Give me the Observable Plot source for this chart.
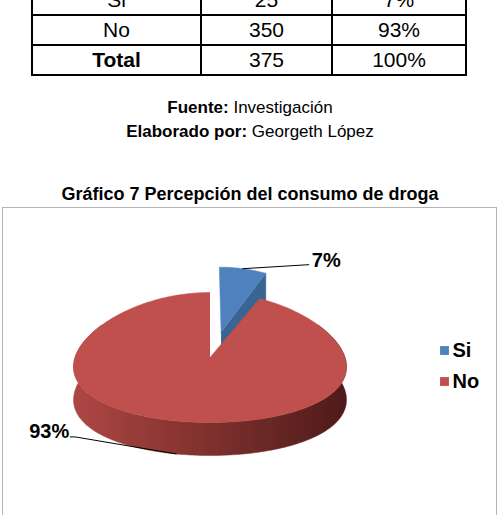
<!DOCTYPE html>
<html>
<head>
<meta charset="utf-8">
<script src="https://cdn.jsdelivr.net/npm/d3@7"></script>
<script src="https://cdn.jsdelivr.net/npm/@observablehq/plot@0.6"></script>
<style>
  html, body { margin: 0; padding: 0; background: #fff; }
  body { position: relative; width: 500px; height: 515px; overflow: hidden;
         font-family: "Liberation Sans", Arial, sans-serif; color: #000; }
  #tabla { position: absolute; left: 31px; top: -16px; border-collapse: collapse;
           table-layout: fixed; }
  #tabla td { border: 2px solid #000; height: 28px; padding: 0; text-align: center;
              font-size: 21px; line-height: 26px; }
  #tabla td.b { font-weight: bold; }
  .nota { position: absolute; left: 0; width: 500px; text-align: center;
          font-size: 17px; line-height: 24px; }
  .nota b { font-weight: bold; }
  #titulo { position: absolute; left: 0; width: 500px; top: 183px; text-align: center;
            font-size: 18px; line-height: 22px; font-weight: bold; }
  #marco { position: absolute; left: 2px; top: 207px; width: 493px; height: 400px;
           border: 1px solid #b4b4b4; }
  #grafico { position: absolute; left: 0; top: 207px; }
</style>
</head>
<body>
<table id="tabla">
  <colgroup><col style="width:169px"><col style="width:131px"><col style="width:134px"></colgroup>
  <tbody></tbody>
</table>
<div class="nota" style="top:96px"><b>Fuente:</b> Investigación</div>
<div class="nota" style="top:120px"><b>Elaborado por:</b> Georgeth López</div>
<div id="titulo">Gráfico 7 Percepción del consumo de droga</div>
<div id="marco"></div>
<div id="grafico"></div>
<script>
// Respuestas a la pregunta sobre el consumo de droga
const categories = ["Si", "No"];
const counts = [25, 350];
const percents = [7, 93];
const sliceColors = ["#4F81BD", "#C0504D"];
const explodeBy = [0.4, 0];   // separación radial de cada porción
const totalLabel = "Total";

// ---- tabla de frecuencias ----
const tbody = d3.select("#tabla tbody");
categories.forEach((c, i) => {
  const tr = tbody.append("tr");
  tr.append("td").text(c);
  tr.append("td").text(counts[i]);
  tr.append("td").text(percents[i] + "%");
});
const trTotal = tbody.append("tr");
trTotal.append("td").attr("class", "b").text(totalLabel);
trTotal.append("td").text(d3.sum(counts));
trTotal.append("td").text(d3.sum(percents) + "%");

// ---- pastel 3D ----
const W = 500, H = 308;
const cx = 209.5, cy = 150, rx = 135, ry = 65, depth = 33, persp = 0.15;
const TAU = 2 * Math.PI;

const total = d3.sum(percents);
let acc = 0;
const slices = categories.map((label, i) => {
  const a0 = acc / total * TAU;
  acc += percents[i];
  const a1 = acc / total * TAU;
  return {label, pct: percents[i], a0, a1, mid: (a0 + a1) / 2, explode: explodeBy[i]};
});

// ángulo medido en sentido horario desde las 12; z = 0 cara superior, 1 base
function project(theta, r, z, s) {
  const X = r * Math.sin(theta) + s.explode * Math.sin(s.mid);
  const Y = r * Math.cos(theta) + s.explode * Math.cos(s.mid);
  const k = 1 - persp * Y;
  return {x: cx + rx * X * k, y: cy - ry * Y + depth * z};
}
function arc(s, t0, t1, z) {
  const n = Math.max(2, Math.ceil(Math.abs(t1 - t0) / (Math.PI / 180)));
  return d3.range(n + 1).map(i => project(t0 + (t1 - t0) * i / n, 1, z, s));
}
const topOf = s => [project(s.a0, 0, 0, s), ...arc(s, s.a0, s.a1, 0)].map(p => ({...p, label: s.label}));

const [si, no] = slices;
const siTop = topOf(si);
const siSide = [project(si.a1, 0, 0, si), project(si.a1, 1, 0, si), project(si.a1, 1, 1, si), project(si.a1, 0, 1, si)];
const noTop = topOf(no);
const front0 = Math.PI / 3, front1 = 5 * Math.PI / 3;
const noWall = [...arc(no, front0, front1, 0), ...arc(no, front1, front0, 1)];

// líneas guía de las etiquetas
const siAnchor = project(si.mid, 1, 0, si);
const siLeader = [siAnchor, {x: siAnchor.x + 66, y: siAnchor.y - 4}];
const noAnchor = project(no.mid, 1, 1, no);
const noLeader = [noAnchor, {x: noAnchor.x - 101, y: noAnchor.y - 17}, {x: noAnchor.x - 106, y: noAnchor.y - 17}];
const siLabel = [{x: siLeader[1].x + 3, y: siLeader[1].y + 2, text: si.pct + "%"}];
const noLabel = [{x: noLeader[2].x - 1, y: noLeader[2].y + 1, text: no.pct + "%"}];

const legendX = 444, legendY = 143, legendGap = 31;

// degradado de la pared lateral
const wallShade = () => {
  const defs = d3.create("svg:defs");
  const g = defs.append("linearGradient").attr("id", "wallShade")
    .attr("x1", 0).attr("x2", 1).attr("y1", 0).attr("y2", 0);
  [[0, "#AD4744"], [0.45, "#83322F"], [1, "#4E1B1A"]].forEach(([o, c]) =>
    g.append("stop").attr("offset", o).attr("stop-color", c));
  return defs.node();
};

const labelStyle = {x: "x", y: "y", text: "text", lineAnchor: "bottom", fontSize: 20, fontWeight: "bold", fill: "#000"};

const chart = Plot.plot({
  width: W, height: H, margin: 0,
  x: {domain: [0, W], range: [0, W], axis: null},
  y: {domain: [0, H], range: [0, H], axis: null},
  color: {domain: categories, range: sliceColors},
  style: {fontFamily: "'Liberation Sans', Arial, sans-serif", background: "transparent", overflow: "visible"},
  marks: [
    wallShade,
    Plot.line(siSide, {x: "x", y: "y", fill: "#3A6493", stroke: "#3A6493", strokeWidth: 0.5}),
    Plot.line(siTop, {x: "x", y: "y", fill: "label", stroke: "label", strokeWidth: 0.5}),
    Plot.line(noWall, {x: "x", y: "y", fill: "url(#wallShade)", stroke: "url(#wallShade)", strokeWidth: 0.5}),
    Plot.line(noTop, {x: "x", y: "y", fill: "label", stroke: "label", strokeWidth: 0.5}),
    Plot.line(siLeader, {x: "x", y: "y", stroke: "#000", strokeWidth: 1}),
    Plot.line(noLeader, {x: "x", y: "y", stroke: "#000", strokeWidth: 1}),
    Plot.text(siLabel, {...labelStyle, textAnchor: "start"}),
    Plot.text(noLabel, {...labelStyle, textAnchor: "end"}),
    Plot.dot(categories, {x: () => legendX, y: (d, i) => legendY + i * legendGap, fill: d => d,
      symbol: "square", r: 5}),
    Plot.text(categories, {x: () => legendX + 8, y: (d, i) => legendY + i * legendGap, text: d => d,
      textAnchor: "start", lineAnchor: "middle", fontSize: 20, fontWeight: "bold", fill: "#000"})
  ]
});
document.getElementById("grafico").append(chart);
</script>
</body>
</html>
